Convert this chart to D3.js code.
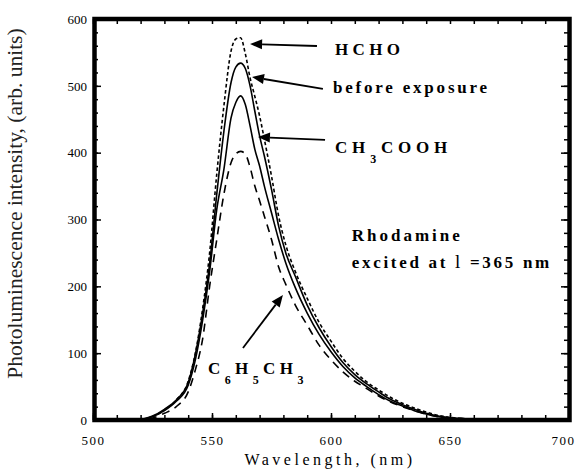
<!DOCTYPE html>
<html>
<head>
<meta charset="utf-8">
<script src="https://cdn.jsdelivr.net/npm/d3@7"></script>
<style>
  body { margin: 0; background: #fff; }
  text { font-family: "Liberation Serif", "DejaVu Serif", serif; fill: #000; }
</style>
</head>
<body>
<svg id="chart" width="577" height="471"></svg>
<script>
// wavelength grid (nm), shared by every spectrum
const wavelengths = [500, 510, 520, 525, 530, 535, 540, 543, 546, 549, 552, 555, 558, 560, 562, 564, 566, 568, 570, 572,
  575, 578, 581, 585, 590, 595, 600, 605, 610, 615, 620, 625, 630, 635, 640, 645, 650, 655, 660, 670, 680, 690, 700];

// photoluminescence intensity (arb. units)
const beforeExposure = [0, 0, 1, 6, 16, 30, 56, 98, 158, 234, 338, 432, 505, 528, 534, 526, 500, 462, 425, 395,
  345, 290, 250, 215, 172, 138, 110, 86, 68, 54, 42, 31, 23, 16, 10, 6, 3, 2, 1, 0, 0, 0, 0];
const hcho = [0, 0, 1, 5, 15, 30, 58, 100, 165, 250, 368, 470, 552, 570, 572, 548, 512, 484, 455, 420,
  365, 305, 262, 222, 182, 146, 118, 92, 73, 57, 45, 34, 25, 18, 12, 7, 4, 2, 1, 0, 0, 0, 0];
const ch3cooh = [0, 0, 1, 5, 14, 28, 52, 90, 148, 222, 315, 375, 452, 475, 485, 472, 440, 405, 380, 350,
  310, 270, 235, 198, 160, 128, 102, 80, 63, 50, 38, 28, 21, 14, 9, 5, 3, 2, 1, 0, 0, 0, 0];
const c6h5ch3 = [0, 0, 0, 3, 10, 20, 42, 75, 120, 200, 270, 338, 385, 398, 402, 398, 378, 350, 328, 305,
  270, 229, 203, 172, 142, 112, 90, 72, 58, 47, 36, 27, 20, 14, 9, 5, 3, 2, 1, 0, 0, 0, 0];

const xTicks = [500, 550, 600, 650, 700];
const yTicks = [0, 100, 200, 300, 400, 500, 600];

const series = [
  { name: 'HCHO', values: hcho, dash: '3.5,2.5' },
  { name: 'before exposure', values: beforeExposure, dash: null },
  { name: 'CH3COOH', values: ch3cooh, dash: null },
  { name: 'C6H5CH3', values: c6h5ch3, dash: '8,6' },
];

const svg = d3.select('#chart');
const x = d3.scaleLinear().domain([500, 700]).range([93, 569]);
const y = d3.scaleLinear().domain([0, 600]).range([420, 19]);

// spectra
const line = d3.line()
  .x((d, i) => x(wavelengths[i]))
  .y(d => y(d))
  .curve(d3.curveMonotoneX);

svg.append('g')
  .selectAll('path')
  .data(series)
  .join('path')
  .attr('fill', 'none')
  .attr('stroke', '#000')
  .attr('stroke-width', 1.6)
  .attr('stroke-dasharray', d => d.dash)
  .attr('d', d => line(d.values));

// axes: ticks point inward on all four sides
const minorX = d3.range(500, 701, 10);
const minorY = d3.range(0, 601, 20);

function cleanAxis(g) {
  g.select('.domain').remove();
  g.selectAll('line').attr('stroke', '#000').attr('stroke-width', 1.5);
}

svg.append('g').attr('transform', `translate(0,${y(0)})`)
  .call(d3.axisBottom(x).tickValues(minorX).tickSize(-5).tickFormat(''))
  .call(cleanAxis);
svg.append('g').attr('transform', `translate(0,${y(600)})`)
  .call(d3.axisTop(x).tickValues(minorX).tickSize(-5).tickFormat(''))
  .call(cleanAxis);
svg.append('g').attr('transform', `translate(${x(500)},0)`)
  .call(d3.axisLeft(y).tickValues(minorY).tickSize(-5).tickFormat(''))
  .call(cleanAxis);
svg.append('g').attr('transform', `translate(${x(700)},0)`)
  .call(d3.axisRight(y).tickValues(minorY).tickSize(-5).tickFormat(''))
  .call(cleanAxis);

// major ticks + labels
const xAxis = svg.append('g').attr('transform', `translate(0,${y(0)})`)
  .call(d3.axisBottom(x).tickValues(xTicks).tickSize(-7).tickPadding(16))
  .call(cleanAxis);
xAxis.selectAll('text')
  .style('font-size', '13px')
  .style('letter-spacing', '1.5px')
  .style('font-family', '"Liberation Serif", serif')
  .attr('dx', d => (d === 700 ? -6 : 0));

svg.append('g').attr('transform', `translate(${x(500)},0)`)
  .call(d3.axisLeft(y).tickValues(yTicks).tickSize(-8).tickPadding(6))
  .call(cleanAxis)
  .selectAll('text')
  .style('font-size', '13px')
  .style('font-family', '"Liberation Serif", serif');

svg.append('g').attr('transform', `translate(${x(700)},0)`)
  .call(d3.axisRight(y).tickValues(yTicks).tickSize(-8).tickFormat(''))
  .call(cleanAxis);

// heavy frame
svg.append('rect')
  .attr('x', x(500) + 1.5)
  .attr('y', y(600))
  .attr('width', x(700) - x(500) - 1)
  .attr('height', y(0) - y(600))
  .attr('fill', 'none')
  .attr('stroke', '#000')
  .attr('stroke-width', 4.5);

// axis titles
svg.append('text')
  .attr('x', 330)
  .attr('y', 465)
  .attr('text-anchor', 'middle')
  .style('font-size', '16px')
  .style('letter-spacing', '3.5px')
  .text('Wavelength, (nm)');

svg.append('text')
  .attr('transform', `translate(22,${(y(0) + y(600)) / 2 - 16}) rotate(-90)`)
  .attr('text-anchor', 'middle')
  .style('font-size', '21.5px')
  .style('fill', '#222')
  .text('Photoluminescence intensity, (arb. units)');

// annotations (placed in data units)
function label(wl, val, parts, spacing) {
  const t = svg.append('text')
    .attr('x', x(wl))
    .attr('y', y(val))
    .style('font-size', '17px')
    .style('font-weight', 'bold')
    .style('letter-spacing', `${spacing}px`);
  parts.forEach(p => {
    const s = t.append('tspan').text(p.t);
    if (p.sub) s.attr('dy', 10).style('font-size', '12px');
    if (p.after) s.attr('dy', -10);
    if (p.plain) s.style('font-weight', 'normal').style('font-size', '19px');
  });
}

label(601.7, 546, [{ t: 'HCHO' }], 4.3);
label(600.8, 489, [{ t: 'before exposure' }], 2.8);
label(601.7, 399.5, [{ t: 'CH' }, { t: '3', sub: true }, { t: 'COOH', after: true }], 4.8);
label(608.7, 268.3, [{ t: 'Rhodamine' }], 3);
label(608.7, 227, [{ t: 'excited at ' }, { t: 'l', plain: true }, { t: ' =365 nm' }], 2.7);
label(548.3, 68.8, [
  { t: 'C' }, { t: '6', sub: true }, { t: 'H', after: true }, { t: '5', sub: true },
  { t: 'CH', after: true }, { t: '3', sub: true },
], 4.4);

function arrow(from, to) {
  const [x1, y1] = [x(from[0]), y(from[1])];
  const [x2, y2] = [x(to[0]), y(to[1])];
  const a = Math.atan2(y2 - y1, x2 - x1);
  const len = 12;
  const hw = 5;
  const bx = x2 - len * Math.cos(a);
  const by = y2 - len * Math.sin(a);
  svg.append('line')
    .attr('x1', x1).attr('y1', y1).attr('x2', bx).attr('y2', by)
    .attr('stroke', '#000').attr('stroke-width', 1.8);
  svg.append('path')
    .attr('d', `M${x2},${y2} L${bx + hw * Math.sin(a)},${by - hw * Math.cos(a)} L${bx - hw * Math.sin(a)},${by + hw * Math.cos(a)} Z`)
    .attr('fill', '#000');
}

arrow([594.1, 559.6], [566.0, 562.6]);
arrow([596.6, 495.3], [566.8, 513.2]);
arrow([597.5, 419.0], [569.3, 423.4]);
arrow([563.0, 107.7], [579.8, 187.0]);
</script>
</body>
</html>
